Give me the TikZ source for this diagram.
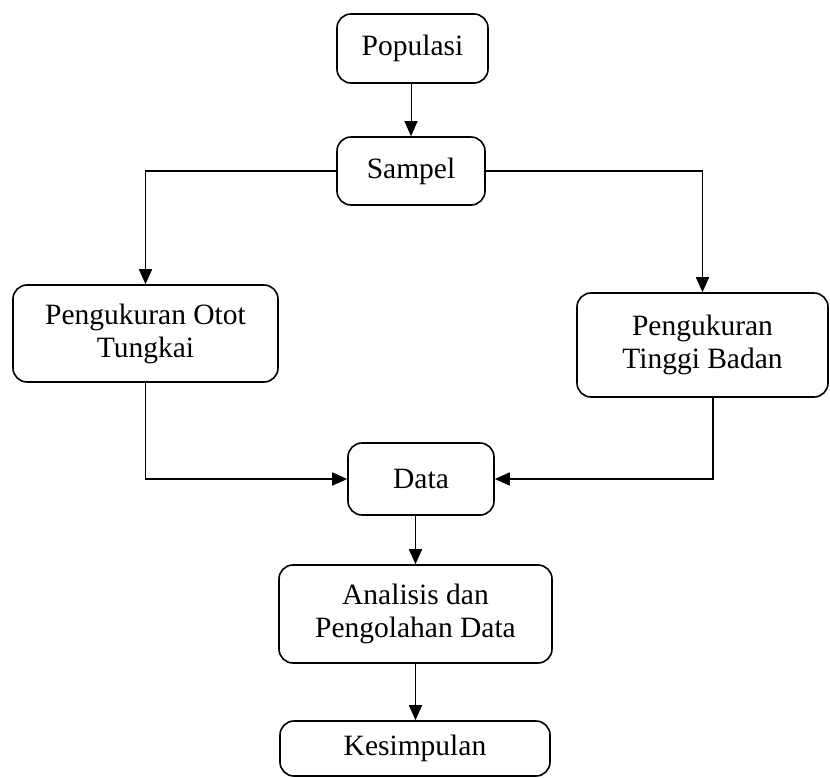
\documentclass[tikz,border=0pt]{standalone}
\usepackage{fontspec}
\setmainfont{Liberation Serif}
\usetikzlibrary{arrows.meta}
\begin{document}
\begin{tikzpicture}[x=1pt,y=-1pt,
  box/.style={draw=black, line width=1.6pt, rounded corners=14pt, align=center,
    inner sep=0pt, font=\fontsize{29.5}{33}\selectfont},
  conn/.style={line width=1.6pt, -{Triangle[width=13pt,length=15pt]}},
  thinconn/.style={line width=0.8pt, -{Triangle[width=13pt,length=15pt]}}]
\path[use as bounding box] (0,0) rectangle (830,777);
\node[box, minimum width=151pt, minimum height=69pt] (pop) at (412.5,48.5) {Populasi};
\node[box, minimum width=148pt, minimum height=68pt] (samp) at (411,171) {Sampel};
\node[box, minimum width=265pt, minimum height=97pt] (otot) at (145.5,333.5) {Pengukuran Otot\\Tungkai};
\node[box, minimum width=251pt, minimum height=104pt] (tinggi) at (702.5,345) {Pengukuran\\Tinggi Badan};
\node[box, minimum width=146pt, minimum height=72pt] (data) at (421,479) {Data};
\node[box, minimum width=273pt, minimum height=98pt] (anal) at (415.5,614) {Analisis dan\\Pengolahan Data};
\node[box, minimum width=270pt, minimum height=55pt] (kes) at (415,748.5) {Kesimpulan};
\coordinate (tb) at ([xshift=10.5pt]tinggi.south);
\draw[thinconn] (pop.south -| samp.north) -- (samp.north);
\draw[conn] (samp.west) -| (otot.north);
\draw[conn] (samp.east) -| (tinggi.north);
\draw[conn] (otot.south) |- (data.west);
\draw[conn] (tb) |- (data.east);
\draw[conn] (anal.north |- data.south) -- (anal.north);
\draw[conn] (anal.south) -- (kes.north -| anal.south);
\end{tikzpicture}
\end{document}
